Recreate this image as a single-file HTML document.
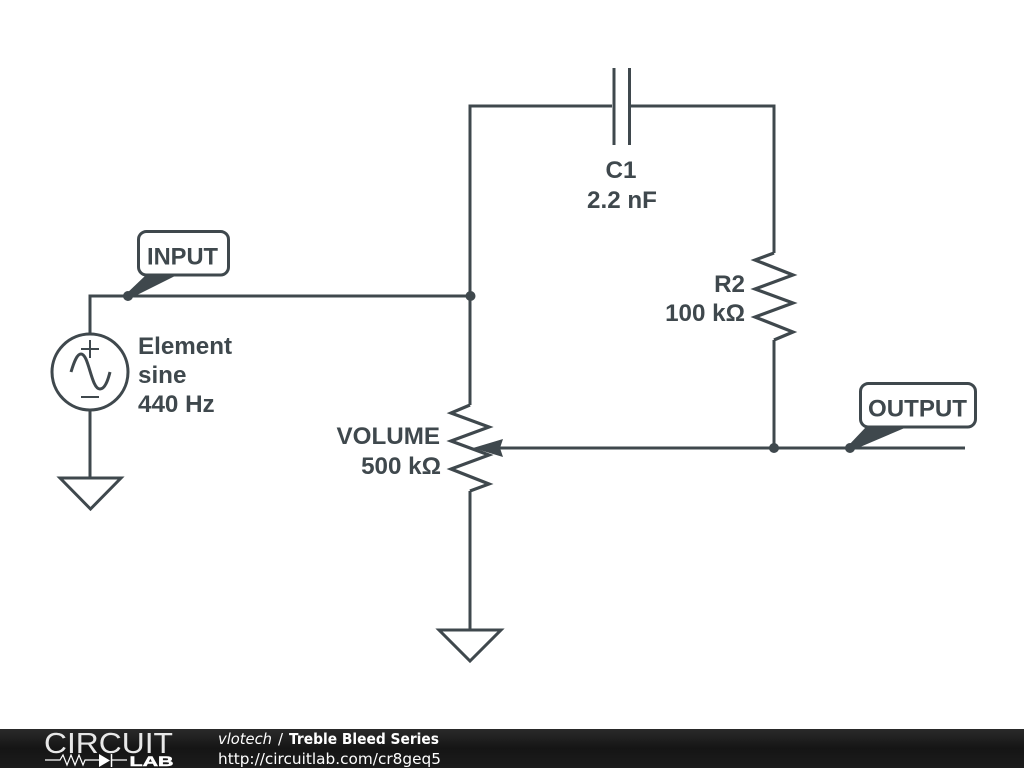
<!DOCTYPE html>
<html>
<head>
<meta charset="utf-8">
<style>
html,body{margin:0;padding:0;background:#fff;width:1024px;height:768px;overflow:hidden}
svg{display:block}
.t{font-family:"Liberation Sans",sans-serif;font-weight:bold;font-size:24.2px;fill:#3f484d}
.f{font-family:"DejaVu Sans",sans-serif;font-size:15px;fill:#fff}
</style>
</head>
<body>
<svg width="1024" height="768" viewBox="0 0 1024 768" xmlns="http://www.w3.org/2000/svg">
<defs>
<linearGradient id="g" x1="0" y1="0" x2="0" y2="1"><stop offset="0" stop-color="#2a2a2a"/><stop offset="0.5" stop-color="#151515"/><stop offset="1" stop-color="#1c1c1c"/></linearGradient>
</defs>
<rect width="1024" height="768" fill="#fff"/>
<g fill="none" stroke="#3f484d" stroke-width="3" stroke-linejoin="miter">
<!-- wires -->
<path d="M90 334V296H470"/>
<path d="M470 405V106H612"/>
<path d="M630 106H774V253"/>
<path d="M774 340V448"/>
<path d="M495 448H965"/>
<path d="M470 491V630"/>
<path d="M90 410V478"/>
<!-- capacitor -->
<path d="M614 68V145M629.500 68V145"/>
<!-- R2 -->
<path d="M774 253L755 260L793 275L755 289L793 303L755 317L793 332L774 340" stroke-width="3.200"/>
<!-- volume -->
<path d="M470 405L451 413L489 427L451 441L489 455L451 469L489 484L470 491" stroke-width="3.200"/>
<!-- source -->
<circle cx="90" cy="372" r="38"/>
<path d="M81 349H99M90 340V358M81 397H99" stroke-width="2"/>
<path d="M71 372C74 362 77 354 81 354C89 354 91 389 100 389C105 389 108 380 110 372" stroke-width="3"/>
<!-- grounds -->
<path d="M60 478H121L90.500 509Z"/>
<path d="M439 630H501L470 661Z"/>
<!-- labels -->
<rect x="138.500" y="231.500" width="90" height="43.500" rx="8"/>
<rect x="860.500" y="383.500" width="115" height="43.500" rx="8"/>
</g>
<g fill="#3f484d">
<path d="M473 448L503 439L500 448L503 457Z"/>
<path d="M125 295L146 275H177L131 298Z"/>
<path d="M847 447L866 427H907L853 450Z"/>
<circle cx="128" cy="296" r="5"/>
<circle cx="470.500" cy="296" r="5"/>
<circle cx="774" cy="448" r="5"/>
<circle cx="850" cy="448" r="5"/>
</g>
<text class="t" x="147" y="264.500" textLength="71" lengthAdjust="spacingAndGlyphs">INPUT</text>
<text class="t" x="868" y="416.500" textLength="99" lengthAdjust="spacingAndGlyphs">OUTPUT</text>
<text class="t" x="138" y="354">Element</text>
<text class="t" x="138" y="383">sine</text>
<text class="t" x="138" y="412">440 Hz</text>
<text class="t" x="621" y="178" text-anchor="middle">C1</text>
<text class="t" x="622" y="208" text-anchor="middle">2.2 nF</text>
<text class="t" x="745" y="292" text-anchor="end">R2</text>
<text class="t" x="745" y="321" text-anchor="end">100 kΩ</text>
<text class="t" x="440" y="444" text-anchor="end">VOLUME</text>
<text class="t" x="441" y="474" text-anchor="end">500 kΩ</text>
<!-- footer -->
<rect x="0" y="729" width="1024" height="39" fill="url(#g)"/>
<text x="44" y="753" font-family="Liberation Sans,sans-serif" font-size="29" fill="#e8e8e8" textLength="129" lengthAdjust="spacingAndGlyphs">CIRCUIT</text>
<path d="M45 760H60L63 755L67 765L71 755L75 765L79 755L83 765L85 760H99M112 760H127" fill="none" stroke="#fff" stroke-width="1.200"/>
<path d="M99 754L110 760.500L99 767Z" fill="#fff"/>
<path d="M111.500 754V767" stroke="#fff" stroke-width="1.500"/>
<text x="129.500" y="766" font-family="Liberation Sans,sans-serif" font-weight="bold" font-size="14" stroke="#fff" stroke-width="0.500" fill="#fff" textLength="44" lengthAdjust="spacingAndGlyphs">LAB</text>
<text class="f" x="218" y="744" font-style="italic" textLength="54" lengthAdjust="spacingAndGlyphs">vlotech</text>
<text class="f" x="278" y="744">/</text>
<text class="f" x="289" y="744" font-weight="bold" textLength="150" lengthAdjust="spacingAndGlyphs">Treble Bleed Series</text>
<text class="f" x="218" y="764" textLength="223" lengthAdjust="spacingAndGlyphs">http://circuitlab.com/cr8geq5</text>
</svg>
</body>
</html>
